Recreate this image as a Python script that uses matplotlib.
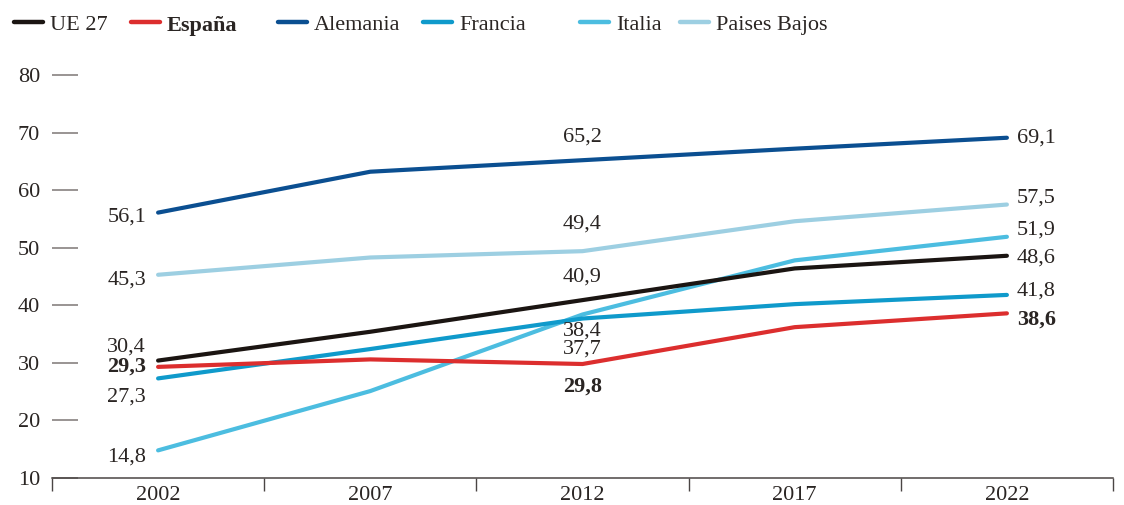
import matplotlib
matplotlib.use("Agg")
import matplotlib.pyplot as plt
from matplotlib.lines import Line2D

plt.rcParams['font.family'] = ['Liberation Serif', 'DejaVu Serif']

years = ["2002", "2007", "2012", "2017", "2022"]
ue27 = [30.4, 35.4, 40.9, 46.4, 48.6]
espana = [29.3, 30.6, 29.8, 36.2, 38.6]
alemania = [56.1, 63.2, 65.2, 67.2, 69.1]
francia = [27.3, 32.4, 37.7, 40.2, 41.8]
italia = [14.8, 25.1, 38.4, 47.8, 51.9]
paises_bajos = [45.3, 48.3, 49.4, 54.6, 57.5]

series_names = ["UE 27", "España", "Alemania", "Francia", "Italia", "Paises Bajos"]
series_values = [ue27, espana, alemania, francia, italia, paises_bajos]
colors = ["#1b1512", "#dc2e2e", "#0b4f91", "#0f9acb", "#4cbde0", "#9dcfe2"]
yticks = [10, 20, 30, 40, 50, 60, 70, 80]

TXT = "#2a2523"
FS = 16

fig = plt.figure(figsize=(11.24, 5.05), dpi=100)
W, H = 1124, 505
ax = fig.add_axes([52 / W, (H - 478) / H, (1113 - 52) / W, (478 - 75) / H])

x = list(range(len(years)))
order = [5, 4, 3, 2, 0, 1]
for i in order:
    ax.plot(x, series_values[i], color=colors[i], lw=3.0, solid_capstyle='round',
            clip_on=False, zorder=3 + (1 if i in (0, 1) else 0))

ax.set_xlim(-0.5, len(years) - 0.5)
ax.set_ylim(10, 80)

for s in ["left", "right", "top"]:
    ax.spines[s].set_visible(False)
ax.spines["bottom"].set_color("#4a4544")
ax.spines["bottom"].set_linewidth(1.1)

ax.set_yticks(yticks)
ax.set_yticklabels([str(v) for v in yticks])
ax.tick_params(axis='y', direction='in', length=19, width=1.1, color='#7d7775',
               pad=8.5, labelsize=FS, labelcolor=TXT)

ax.set_xticks(x)
ax.set_xticklabels(years)
ax.set_xticks([v - 0.5 for v in range(len(years) + 1)], minor=True)
ax.tick_params(axis='x', which='major', length=0, pad=5.5, labelsize=FS, labelcolor=TXT)
ax.tick_params(axis='x', which='minor', length=9.5, width=1.0, color='#4a4544')

def fmt(v):
    return f"{v:.1f}".replace(".", ",")

ann_first = {2: -4, 5: -5, 0: 14, 1: 0, 3: -19, 4: -7}
for i, dy in ann_first.items():
    ax.annotate(fmt(series_values[i][0]), (0, series_values[i][0]),
                xytext=(-12, dy), textcoords='offset pixels', ha='right', va='center',
                fontsize=FS, color=TXT, fontweight='bold' if i == 1 else 'normal',
                annotation_clip=False)

ann_mid = {2: 23, 5: 27, 0: 23, 4: -17, 3: -31, 1: -23}
for i, dy in ann_mid.items():
    ax.annotate(fmt(series_values[i][2]), (2, series_values[i][2]),
                xytext=(0, dy), textcoords='offset pixels', ha='center', va='center',
                fontsize=FS, color=TXT, fontweight='bold' if i == 1 else 'normal',
                annotation_clip=False)

ann_last = {2: 0, 5: 6, 4: 7, 0: -2, 3: 4, 1: -6}
for i, dy in ann_last.items():
    ax.annotate(fmt(series_values[i][-1]), (4, series_values[i][-1]),
                xytext=(10, dy), textcoords='offset pixels', ha='left', va='center',
                fontsize=FS, color=TXT, fontweight='bold' if i == 1 else 'normal',
                annotation_clip=False)

leg_x = [14, 131, 278, 423, 580, 680]
leg_y = 1 - 22 / H
for k, name in enumerate(series_names):
    x0 = leg_x[k] / W
    fig.add_artist(Line2D([x0, x0 + 29 / W], [leg_y, leg_y], color=colors[k], lw=3.2,
                          solid_capstyle='round', transform=fig.transFigure))
    fig.text(x0 + 36 / W, leg_y - 1 / H, name, ha='left', va='center_baseline', fontsize=FS,
             color=TXT, fontweight='bold' if k == 1 else 'normal')

fig.savefig("out.png", dpi=100)
